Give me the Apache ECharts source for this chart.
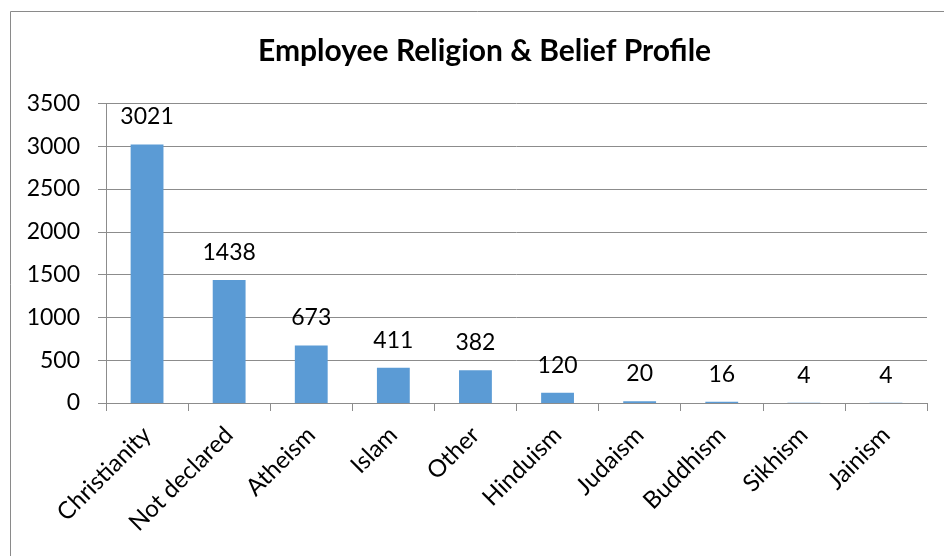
<!DOCTYPE html>
<html>
<head>
<meta charset="utf-8">
<script src="https://cdn.jsdelivr.net/npm/echarts@6/dist/echarts.min.js"></script>
<style>
  html, body { margin: 0; padding: 0; background: #fff; }
  #chart { width: 944px; height: 556px; }
</style>
</head>
<body>
<div id="chart"></div>
<script>
// Headcount by declared religion or belief
const categories = ['Christianity', 'Not declared', 'Atheism', 'Islam', 'Other',
                    'Hinduism', 'Judaism', 'Buddhism', 'Sikhism', 'Jainism'];
const employees = [3021, 1438, 673, 411, 382, 120, 20, 16, 4, 4];
const yTicks = { min: 0, max: 3500, step: 500 };

const FONT = 'Lato, "Open Sans", sans-serif';
const GRID_GREY = '#8c8c8c';

const chart = echarts.init(document.getElementById('chart'), null, { renderer: 'canvas' });

chart.setOption({
  animation: false,
  backgroundColor: '#ffffff',
  graphic: [{
    type: 'rect',
    shape: { x: 10.5, y: 11.5, width: 1000, height: 1000 },
    style: { fill: 'none', stroke: '#8a8a8a', lineWidth: 1 },
    silent: true
  }],
  title: {
    text: 'Employee Religion & Belief Profile',
    left: 258,
    top: 36,
    padding: 0,
    textStyle: { fontFamily: FONT, fontWeight: 'bold', fontSize: 30, color: '#000' }
  },
  grid: { left: 106, right: 17, top: 103.5, bottom: 153, containLabel: false },
  xAxis: {
    type: 'category',
    data: categories,
    axisLine: { lineStyle: { color: GRID_GREY, width: 1 } },
    axisTick: { show: true, length: 8, lineStyle: { color: GRID_GREY } },
    axisLabel: {
      interval: 0,
      rotate: 45,
      margin: 28,
      fontFamily: FONT,
      fontSize: 24,
      color: '#000'
    }
  },
  yAxis: {
    type: 'value',
    min: yTicks.min,
    max: yTicks.max,
    interval: yTicks.step,
    axisLine: { show: true, lineStyle: { color: GRID_GREY, width: 1 } },
    axisTick: { show: true, length: 8, lineStyle: { color: GRID_GREY } },
    splitLine: { show: true, lineStyle: { color: GRID_GREY, width: 1 } },
    axisLabel: {
      margin: 26,
      fontFamily: FONT,
      fontSize: 23,
      color: '#000',
      formatter: v => String(v)
    }
  },
  series: [{
    type: 'bar',
    data: employees,
    barWidth: '40%',
    itemStyle: { color: '#5b9bd5' },
    label: {
      show: true,
      position: 'top',
      distance: 16,
      fontFamily: FONT,
      fontSize: 23,
      color: '#000'
    }
  }]
});
</script>
</body>
</html>
